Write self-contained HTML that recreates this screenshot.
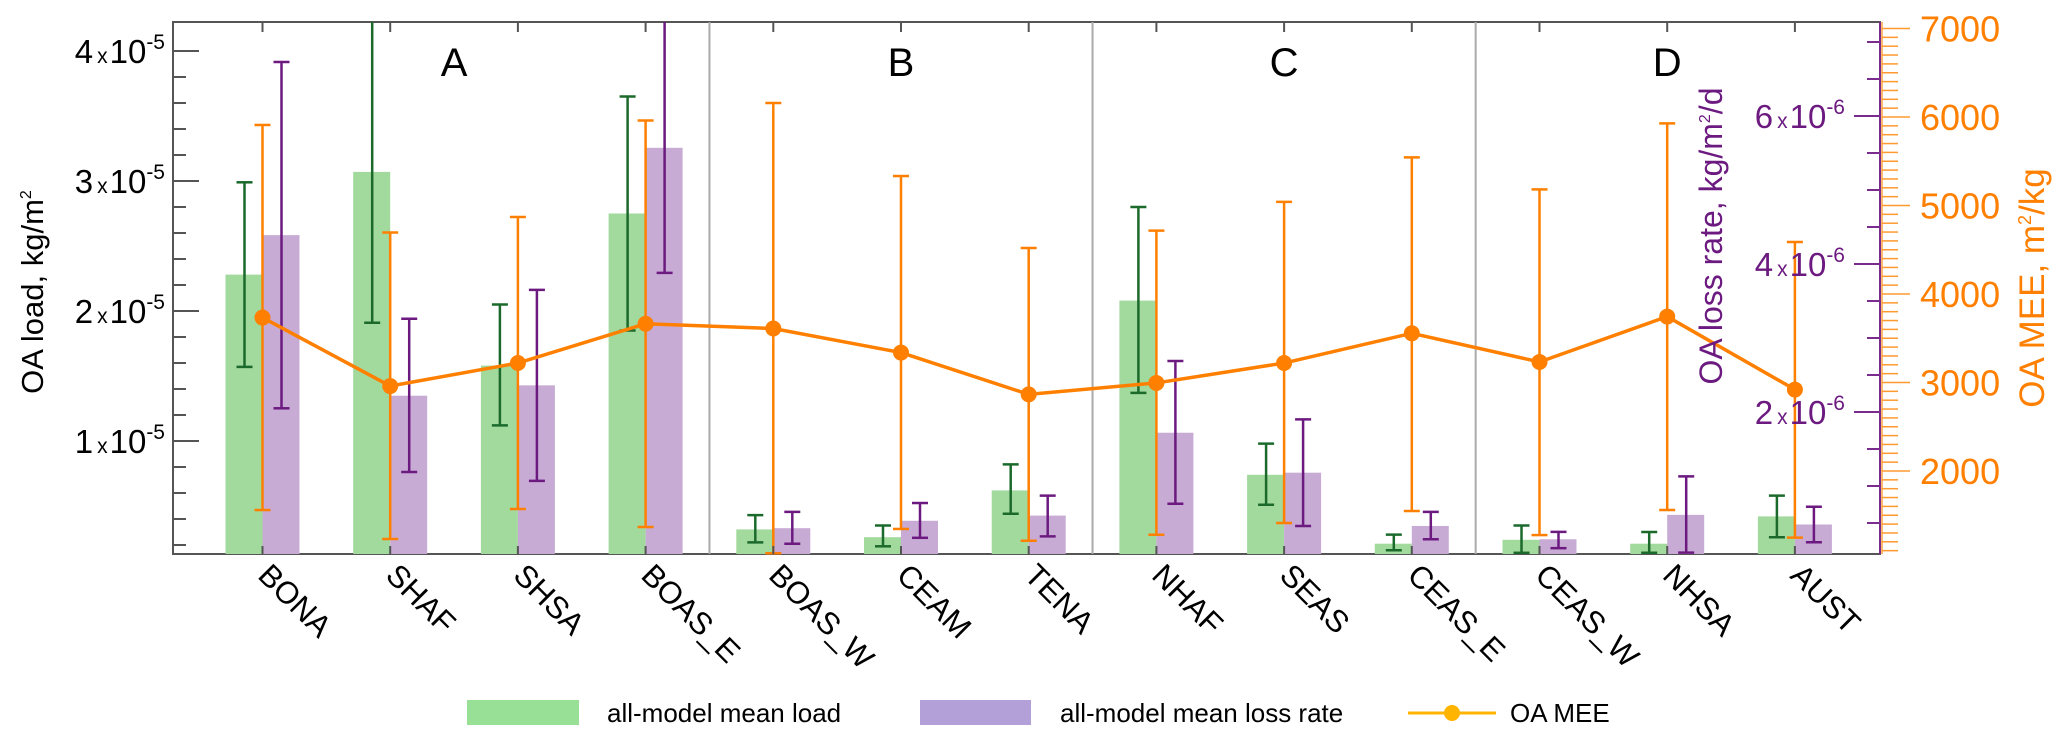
<!DOCTYPE html>
<html><head><meta charset="utf-8"><style>
html,body{margin:0;padding:0;background:#fff;}
svg{display:block;font-family:"Liberation Sans",Arial,sans-serif;}
</style></head><body>
<svg id="chart" width="2067" height="744" viewBox="0 0 2067 744" xmlns="http://www.w3.org/2000/svg">
<g id="grid"></g>
<g id="bars"></g>
<g id="errs"></g>
<g id="line"></g>
<g id="axes"></g>
<g>
  <rect x="467" y="700" width="112" height="25" fill="#98e096"/>
  <text x="607" y="722" font-size="26">all-model mean load</text>
  <rect x="920" y="700" width="111" height="25" fill="#b3a0d8"/>
  <text x="1060" y="722" font-size="26">all-model mean loss rate</text>
  <line x1="1408" y1="713" x2="1496" y2="713" stroke="#ffb400" stroke-width="3"/>
  <circle cx="1452" cy="713" r="8" fill="#ffb400"/>
  <text x="1510" y="722" font-size="26">OA MEE</text>
</g>
</svg>
<script>
const categories=["BONA","SHAF","SHSA","BOAS_E","BOAS_W","CEAM","TENA","NHAF","SEAS","CEAS_E","CEAS_W","NHSA","AUST"];
// OA load (x1e-5 kg/m2)
const loadMean=[2.28,3.07,1.58,2.75,0.32,0.26,0.62,2.08,0.74,0.21,0.24,0.21,0.42];
const loadHi=[2.99,4.6,2.05,3.65,0.43,0.35,0.82,2.80,0.98,0.28,0.35,0.30,0.58];
const loadLo=[1.57,1.91,1.12,1.85,0.22,0.19,0.44,1.37,0.51,0.16,0.14,0.14,0.26];
// OA loss rate (x1e-6 kg/m2/d)
const lossMean=[4.39,2.22,2.36,5.57,0.43,0.53,0.60,1.72,1.18,0.46,0.28,0.61,0.48];
const lossHi=[6.73,3.26,3.65,7.6,0.65,0.77,0.87,2.69,1.90,0.65,0.38,1.13,0.72];
const lossLo=[2.05,1.19,1.07,3.88,0.22,0.30,0.32,0.76,0.46,0.28,0.16,0.10,0.24];
// OA MEE (m2/kg)
const meeMean=[3734,2960,3220,3664,3610,3338,2866,2995,3220,3556,3232,3745,2920];
const meeHi=[5910,4695,4870,5960,6158,5333,4520,4716,5041,5544,5182,5928,4588];
const meeLo=[1559,1232,1570,1367,1070,1345,1212,1279,1412,1548,1276,1559,1247];
const groupLabels=["A","B","C","D"];
const leftTicks=[1,2,3,4];
const purpleTicks=[2,4,6];
const orangeTicks=[2000,3000,4000,5000,6000,7000];

const NS="http://www.w3.org/2000/svg";
const L=173,R=1880,T=22,B=554;
const xC=i=>262.5+i*127.7;
const yL=v=>571-130*v;
const yP=v=>560-74*v;
const yO=v=>28.5+(7000-v)*0.0885;
const clampY=y=>Math.max(T,Math.min(B,y));
function mk(parent,tag,attrs){const e=document.createElementNS(NS,tag);for(const k in attrs)e.setAttribute(k,attrs[k]);document.getElementById(parent).appendChild(e);return e;}

let e;
e=mk('grid','rect',{x:L,y:T,width:R-L,height:B-T,fill:'none',stroke:'#555','stroke-width':2});


[3.5,6.5,9.5].forEach((g,k)=>{
  e=mk('grid','line',{x1:xC(g),x2:xC(g),y1:T,y2:B,stroke:'#aaa','stroke-width':2});
  
  
});
const groupPos=[1.5,5,8,11];
groupLabels.forEach((g,k)=>{
  e=mk('grid','text',{x:xC(groupPos[k]),y:76,'font-size':40,'text-anchor':'middle'});
  e.textContent=g;
  
  
});

categories.forEach((c,i)=>{
  const x=xC(i);
  let yg=clampY(yL(loadMean[i]));
  e=mk('bars','rect',{x:x-37,y:yg,width:37,height:B-yg,fill:'#a2d99c'});
  
  
  let yp=clampY(yP(lossMean[i]));
  e=mk('bars','rect',{x:x,y:yp,width:37,height:B-yp,fill:'#c7abd5'});
  
  
});

function errbar(cx,yh,yl,col,w,name){
  const a=clampY(yh),b=clampY(yl);
  e=mk('errs','line',{x1:cx,x2:cx,y1:a,y2:b,stroke:col,'stroke-width':2.5});
  
  
  if(yh>=T){e=mk('errs','line',{x1:cx-w,x2:cx+w,y1:a,y2:a,stroke:col,'stroke-width':2.5});
  
  }
  if(yl<=B){e=mk('errs','line',{x1:cx-w,x2:cx+w,y1:b,y2:b,stroke:col,'stroke-width':2.5});
  
  }
}
categories.forEach((c,i)=>{
  const x=xC(i);
  errbar(x-18,yL(loadHi[i]),yL(loadLo[i]),'#1b6a2c',8,'err-load-'+c.toLowerCase());
  errbar(x+19,yP(lossHi[i]),yP(lossLo[i]),'#6c1a80',8,'err-loss-'+c.toLowerCase());
  errbar(x,yO(meeHi[i]),yO(meeLo[i]),'#ff8000',8,'err-mee-'+c.toLowerCase());
});

e=mk('line','polyline',{points:categories.map((c,i)=>xC(i)+','+yO(meeMean[i])).join(' '),fill:'none',stroke:'#ff8000','stroke-width':3.5});


categories.forEach((c,i)=>{
  e=mk('line','circle',{cx:xC(i),cy:yO(meeMean[i]),r:8,fill:'#ff8000'});
  
  
});

categories.forEach((c,i)=>{
  const x=xC(i);
  e=mk('axes','line',{x1:x,x2:x,y1:T,y2:T+10,stroke:'#555','stroke-width':2});
  
  
  e=mk('axes','line',{x1:x,x2:x,y1:B,y2:B-8,stroke:'#555','stroke-width':2});
  
  
  e=mk('axes','text',{x:0,y:0,'font-size':31,transform:`translate(${x-6},${577}) rotate(45)`});
  e.textContent=c;
  
  
});

for(let v=0.2;v<=4.2;v+=0.2){
  const y=yL(v); if(y<T||y>B) continue;
  const major=Math.abs(v-Math.round(v))<0.01;
  e=mk('axes','line',{x1:L,x2:L+(major?26:13),y1:y,y2:y,stroke:'#555','stroke-width':2});
  
  
}
function sciLabel(g,xr,y,mant,exp,col,name){
  e=mk(g,'text',{x:xr,y:y+12,'text-anchor':'end',fill:col,'font-size':33});
  e.innerHTML=`${mant}<tspan font-size="21" dx="4">x</tspan><tspan dx="2">10</tspan><tspan font-size="21" dy="-14">-${exp}</tspan>`;
  
  
}
leftTicks.forEach(v=>sciLabel('axes',165,yL(v),v,5,'#000','y-left-label'));
e=mk('axes','text',{x:0,y:0,'font-size':31,'text-anchor':'middle',transform:'translate(43,292) rotate(-90)'});
e.innerHTML='OA load, kg/m<tspan font-size="16" dy="-12">2</tspan>';



e=mk('axes','line',{x1:R,x2:R,y1:T,y2:B,stroke:'#7a2c8e','stroke-width':2});


for(let v=0.5;v<=7;v+=0.5){
  const y=yP(v); if(y<T) continue;
  const major=Math.abs(v-Math.round(v/2)*2)<0.01;
  e=mk('axes','line',{x1:R-(major?26:13),x2:R,y1:y,y2:y,stroke:'#7a2c8e','stroke-width':2});
  
  
}
purpleTicks.forEach(v=>sciLabel('axes',1845,yP(v),v,6,'#6c1a80','y-purple-label'));
e=mk('axes','text',{x:0,y:0,'font-size':32,fill:'#6c1a80','text-anchor':'middle',transform:'translate(1722,236) rotate(-90)'});
e.innerHTML='OA loss rate, kg/m<tspan font-size="16" dy="-12">2</tspan><tspan dy="12">/d</tspan>';



e=mk('axes','line',{x1:R+2,x2:R+2,y1:T,y2:B,stroke:'#ffa040','stroke-width':1.5});


for(let v=1100;v<=7000;v+=100){
  const y=yO(v);
  const major=v%1000===0;
  e=mk('axes','line',{x1:R+2,x2:R+(major?30:18),y1:y,y2:y,stroke:'#ff9a30','stroke-width':1.5});
  
  
}
orangeTicks.forEach(v=>{
  e=mk('axes','text',{x:1920,y:yO(v)+13,'font-size':36,fill:'#ff7f00'});
  e.textContent=v;
  
  
});
e=mk('axes','text',{x:0,y:0,'font-size':35,fill:'#ff7f00','text-anchor':'middle',transform:'translate(2044,288) rotate(-90)'});
e.innerHTML='OA MEE, m<tspan font-size="18" dy="-13">2</tspan><tspan dy="13">/kg</tspan>';


</script>
</body></html>
